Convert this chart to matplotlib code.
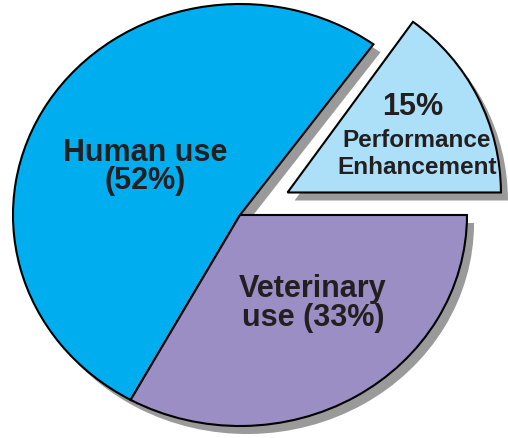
import numpy as np
import matplotlib
matplotlib.use("Agg")
import matplotlib.pyplot as plt
from matplotlib.transforms import Affine2D

# slice data (counter-clockwise from 3 o'clock)
labels = ["Performance Enhancement", "Human use", "Veterinary use"]
shares = [15, 52, 33]
colors = ["#ace0f8", "#00aeef", "#9b8ec4"]
explode = [0.235, 0, 0]

plt.rcParams['font.family'] = ['Liberation Sans', 'DejaVu Sans']
text_color = "#231f20"

fig = plt.figure(figsize=(5.08, 4.39), dpi=100)
ax = fig.add_axes([0, 0, 1, 1])

# drop shadow first, shifted down-right
sh, _ = ax.pie(shares, explode=explode, startangle=0, counterclock=True,
               colors=["#9a9a9a"] * 3, center=(0.031, -0.038),
               wedgeprops=dict(linewidth=0))
# main pie
wedges, _ = ax.pie(shares, explode=explode, startangle=0, counterclock=True,
                   colors=colors,
                   wedgeprops=dict(edgecolor="black", linewidth=1.5))

# the pulled-out slice is a little narrower in the original drawing
for w in (sh[0], wedges[0]):
    c = w.center
    w.set_transform(Affine2D().translate(-c[0], -c[1]).scale(0.94, 1.0)
                    .translate(c[0], c[1]) + ax.transData)

ax.text(-0.418, 0.232, "Human use\n(52%)", ha="center", va="center",
        fontsize=22, fontweight="bold", color=text_color, linespacing=0.95)
ax.text(0.322, -0.415, "Veterinary\nuse (33%)", ha="center", va="center",
        fontsize=22, fontweight="bold", color=text_color, linespacing=0.95)
ax.text(0.762, 0.517, "15%", ha="center", va="center",
        fontsize=22, fontweight="bold", color=text_color)
ax.text(0.776, 0.36, "Performance", ha="center", va="center",
        fontsize=17.5, fontweight="bold", color=text_color)
ax.text(0.780, 0.232, "Enhancement", ha="center", va="center",
        fontsize=17.5, fontweight="bold", color=text_color)

# slightly wider than tall, like the original drawing
cx, cy, rx, ry = 240, 216, 227, 211
ax.set_aspect("auto")
ax.set_xlim(-cx / rx, (508 - cx) / rx)
ax.set_ylim(-(439 - cy) / ry, cy / ry)
ax.axis("off")

fig.savefig("out.png", dpi=100)
